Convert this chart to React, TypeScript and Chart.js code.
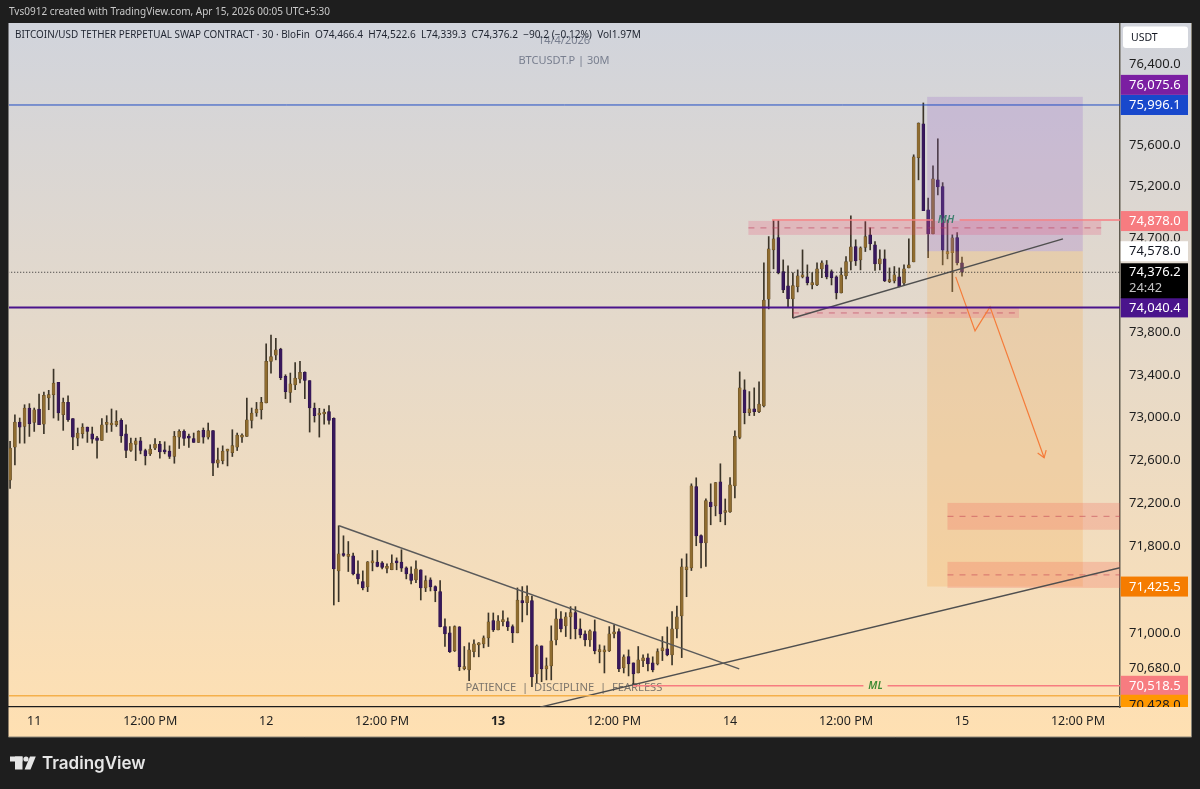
import React, { useEffect, useRef } from 'react'
import { Chart, registerables } from 'chart.js'

Chart.register(...registerables)

const FONT = '"Noto Sans", sans-serif'

// 30 minute BTCUSDT.P bars. Bar number 0 is the open of the 11th
const opens = [
  72412, 72720, 72955, 72914, 73087, 72952, 73078, 72936, 73181, 73213,
  73329, 73024, 73140, 72987, 72804, 72845, 72908, 72845, 72808, 72783,
  72933, 72927, 72930, 72971, 72845, 72688, 72745, 72779, 72688, 72657,
  72710, 72748, 72688, 72682, 72632, 72814, 72867, 72814, 72801, 72764,
  72877, 72814, 72874, 72569, 72594, 72682, 72669, 72720, 72814, 72820,
  72971, 73040, 73071, 73134, 73527, 73586, 73643, 73385, 73235, 73304,
  73360, 73423, 73345, 73087, 73021, 73031, 73053, 72990, 71570, 71727,
  71703, 71709, 71542, 71471, 71422, 71644, 71651, 71644, 71593, 71580,
  71654, 71651, 71598, 71542, 71487, 71580, 71413, 71487, 71425, 71379,
  71058, 71001, 70839, 71055, 70675, 70663, 70830, 70891, 70900, 70955,
  71113, 71028, 71104, 71104, 71058, 71001, 71296, 71277, 71296, 70626,
  70882, 70672, 70699, 70937, 71129, 71065, 71147, 71186, 71037, 70992,
  70937, 71013, 70830, 70827, 70836, 70992, 71013, 70681, 70784, 70727,
  70635, 70748, 70772, 70727, 70718, 70839, 70855, 70800, 71037, 71156,
  71580, 71598, 72351, 71897, 71829, 72208, 72171, 72395, 72110, 72116,
  72358, 72810, 73258, 73044, 73079, 73053, 73107, 74120, 74591, 74710,
  74383, 74246, 74121, 74239, 74332, 74332, 74255, 74255, 74409, 74447,
  74383, 74332, 74178, 74342, 74479, 74623, 74495, 74614, 74736, 74640,
  74457, 74505, 74287, 74294, 74332, 74272, 74418, 74476, 75481, 75811,
  74976, 74745, 75267, 75201, 74553, 74563, 74710, 74466.4,
]
const highs = [
  72773, 73024, 72993, 73118, 73128, 73087, 73219, 73238, 73254, 73454,
  73329, 73181, 73203, 72987, 72899, 72940, 72908, 72908, 72820, 72987,
  73015, 73078, 73062, 72987, 72930, 72804, 72804, 72811, 72701, 72742,
  72801, 72773, 72770, 72732, 72867, 72883, 72883, 72842, 72852, 72874,
  72899, 72946, 72874, 72710, 72732, 72701, 72883, 72852, 72845, 73181,
  73087, 73140, 73188, 73693, 73778, 73746, 73652, 73401, 73417, 73517,
  73527, 73429, 73345, 73134, 73084, 73078, 73109, 72995, 71987, 71894,
  71841, 71734, 71663, 71570, 71656, 71758, 71758, 71656, 71635, 71718,
  71690, 71765, 71607, 71607, 71663, 71580, 71524, 71506, 71432, 71481,
  71129, 71058, 71065, 71058, 70876, 70909, 70937, 70912, 70973, 71183,
  71183, 71159, 71202, 71138, 71074, 71413, 71425, 71432, 71339, 70891,
  70882, 70772, 71065, 71220, 71195, 71186, 71241, 71241, 71129, 71019,
  71028, 71119, 70891, 70882, 71058, 71074, 71037, 70800, 70845, 70727,
  70876, 70800, 70809, 70782, 70855, 70967, 71055, 71195, 71247, 71681,
  71727, 72377, 72433, 71903, 72236, 72377, 72389, 72564, 72236, 72436,
  72873, 73428, 73353, 73242, 73277, 73334, 74467, 74719, 74873, 74873,
  74495, 74438, 74370, 74399, 74591, 74447, 74373, 74467, 74486, 74489,
  74399, 74342, 74418, 74527, 74918, 74688, 74620, 74863, 74803, 74671,
  74591, 74591, 74418, 74431, 74418, 74447, 74697, 75510, 75821, 76016,
  75091, 75403, 75666, 75240, 74880, 74736, 74758, 74522.6,
]
const lows = [
  72333, 72553, 72757, 72757, 72820, 72867, 72930, 72845, 73071, 72993,
  72971, 72877, 72961, 72695, 72732, 72804, 72764, 72757, 72616, 72783,
  72858, 72867, 72914, 72764, 72622, 72679, 72594, 72657, 72553, 72641,
  72695, 72616, 72657, 72613, 72569, 72707, 72735, 72717, 72764, 72764,
  72757, 72795, 72453, 72531, 72563, 72544, 72632, 72688, 72764, 72820,
  72899, 73009, 72983, 73134, 73417, 73542, 73354, 73175, 73140, 73260,
  73323, 73175, 72861, 72955, 72814, 72936, 72936, 71256, 71286, 71703,
  71564, 71533, 71450, 71395, 71379, 71570, 71607, 71589, 71552, 71580,
  71580, 71564, 71496, 71450, 71462, 71302, 71379, 71385, 71286, 71055,
  70876, 70821, 70830, 70657, 70663, 70565, 70782, 70782, 70864, 70876,
  71013, 71028, 71065, 71022, 70912, 71001, 71101, 71165, 70510, 70544,
  70556, 70572, 70572, 70891, 71010, 70967, 70946, 70946, 70955, 70882,
  70876, 70809, 70727, 70635, 70830, 70955, 70647, 70635, 70608, 70526,
  70635, 70693, 70654, 70645, 70708, 70748, 70791, 70708, 70955, 70775,
  71332, 71573, 71802, 71598, 71610, 71996, 72079, 72024, 71996, 72110,
  72246, 72798, 72938, 73016, 73016, 73044, 73097, 74026, 74409, 74361,
  74181, 74047, 73940, 74188, 74322, 74255, 74217, 74248, 74325, 74313,
  74255, 74121, 74178, 74313, 74399, 74441, 74399, 74575, 74591, 74393,
  74399, 74287, 74277, 74274, 74236, 74248, 74418, 74476, 75267, 74969,
  74515, 74745, 75121, 74447, 74505, 74191, 74447, 74339.3,
]
const closes = [
  72710, 72955, 72908, 73087, 72940, 73071, 72930, 73206, 73213, 73323,
  73040, 73140, 72977, 72814, 72852, 72908, 72867, 72795, 72783, 72930,
  72940, 72933, 72961, 72826, 72688, 72757, 72779, 72688, 72638, 72701,
  72748, 72676, 72676, 72632, 72820, 72867, 72801, 72804, 72764, 72867,
  72814, 72874, 72569, 72600, 72682, 72688, 72735, 72833, 72820, 72977,
  73040, 73078, 73140, 73527, 73574, 73637, 73373, 73241, 73316, 73370,
  73423, 73348, 73087, 73015, 73034, 73049, 72971, 71589, 71727, 71712,
  71712, 71542, 71496, 71413, 71654, 71656, 71610, 71601, 71603, 71642,
  71644, 71595, 71542, 71481, 71589, 71413, 71481, 71422, 71388, 71058,
  70992, 70830, 71058, 70693, 70693, 70845, 70900, 70900, 70955, 71101,
  71028, 71110, 71113, 71058, 71001, 71302, 71275, 71339, 70599, 70882,
  70672, 70699, 70928, 71129, 71037, 71147, 71186, 71037, 70982, 70937,
  71019, 70836, 70845, 70836, 70992, 71001, 70672, 70782, 70718, 70626,
  70754, 70772, 70718, 70663, 70830, 70864, 70800, 71037, 71147, 71607,
  71607, 72358, 71894, 71829, 72221, 72165, 72389, 72097, 72125, 72367,
  72820, 73277, 73044, 73079, 73053, 73125, 74111, 74601, 74697, 74370,
  74207, 74121, 74248, 74342, 74351, 74277, 74277, 74409, 74467, 74332,
  74325, 74178, 74351, 74479, 74620, 74486, 74611, 74719, 74649, 74457,
  74505, 74294, 74303, 74351, 74239, 74409, 74447, 75490, 75818, 74969,
  74745, 75276, 75198, 74591, 74575, 74707, 74467, 74376.2,
]
const firstBar = -5
const bars = opens.map((_, i) => i + firstBar)

const timeTicks = [0, 24, 48, 72, 96, 120, 144, 168, 192, 216]
const timeLabels = ['11', '12:00 PM', '12', '12:00 PM', '13', '12:00 PM', '14', '12:00 PM', '15', '12:00 PM']
const boldTimeTick = 96

const priceTicks = [76400, 75600, 75200, 74700, 73800, 73400, 73000, 72600, 72200, 71800, 71000, 70680]

// drawn levels and trend lines, as bar number and price
const blueLevel = 75996.1
const purpleLevel = 74040.4
const lastPrice = 74376.2
const orangeLevel = 70428
const mhLevel = 74878
const mlLevel = 70518.5
const trendDown = [{ x: 63.1, y: 71987 }, { x: 145.9, y: 70672 }]
const trendLong = [{ x: 104.7, y: 70325 }, { x: 224.7, y: 71598 }]
const trendShort = [{ x: 157, y: 73940 }, { x: 212.9, y: 74697 }]
const arrowPath = [{ x: 190.7, y: 74332 }, { x: 194.7, y: 73817 }, { x: 197.8, y: 74045 }, { x: 209, y: 72620 }]

// position tool and supply zones: from bar, to bar, upper price, lower price
const targetBox = [184.8, 217, 76075.6, 74578]
const stopBox = [184.8, 217, 74578, 71425.5]
const zoneUpper = [147.8, 220.8, 74870, 74735]
const zoneMiddle = [157, 203.8, 74035, 73940]
const zoneLowA = [189, 224.7, 72199, 71950]
const zoneLowB = [189, 224.7, 71653, 71413]

const priceTags = [
  { price: 76075.6, text: '76,075.6', bg: '#7b1fa2', fg: '#fff', shift: -12 },
  { price: 75996.1, text: '75,996.1', bg: '#1848cc', fg: '#fff', shift: 0 },
  { price: 74878, text: '74,878.0', bg: '#f77c80', fg: '#fff', shift: 1 },
  { price: 74578, text: '74,578.0', bg: '#ffffff', fg: '#131722', shift: 0 },
  { price: 74040.4, text: '74,040.4', bg: '#4a148c', fg: '#fff', shift: 0 },
  { price: 71425.5, text: '71,425.5', bg: '#f57c00', fg: '#fff', shift: 0 },
  { price: 70518.5, text: '70,518.5', bg: '#f77c80', fg: '#fff', shift: 0 },
  { price: 70428, text: '70,428.0', bg: '#ff9800', fg: '#131722', shift: 9 },
]

const bodyLow = opens.map((o, i) => Math.min(o, closes[i]))
const bodyHigh = opens.map((o, i) => Math.max(o, closes[i]))
const bodyColor = (part: 'fill' | 'edge') =>
  opens.map((o, i) => {
    if (closes[i] >= o) return part === 'fill' ? '#8f6c30' : '#5a4522'
    return part === 'fill' ? '#38185c' : '#2a1346'
  })

function flat(price: number, from = -6, to = 226) {
  return [{ x: from, y: price }, { x: to, y: price }]
}

const line = (data: { x: number; y: number }[], color: string, width: number, dash: number[] = []) => ({
  type: 'line' as const,
  data,
  borderColor: color,
  borderWidth: width,
  borderDash: dash,
  pointRadius: 0,
  tension: 0,
  order: 0,
})

const overlayPlugin = {
  id: 'overlays',
  beforeDraw(chart: Chart) {
    const { ctx } = chart
    ctx.save()
    ctx.fillStyle = '#1e1e1e'
    ctx.fillRect(0, 0, chart.width, chart.height)
    const g = ctx.createLinearGradient(0, 23, 0, 737)
    g.addColorStop(0, '#d1d4dc')
    g.addColorStop(1, '#ffe0b2')
    ctx.fillStyle = g
    ctx.fillRect(8.5, 23, 1183.5, 714)
    ctx.strokeStyle = '#8a8578'
    ctx.lineWidth = 1
    ctx.beginPath()
    ctx.moveTo(1191.5, 23)
    ctx.lineTo(1191.5, 737)
    ctx.lineTo(8.5, 737)
    ctx.stroke()

    ctx.fillStyle = '#c9c9c9'
    ctx.font = `10px ${FONT}`
    ctx.textBaseline = 'middle'
    ctx.fillText('Tvs0912 created with TradingView.com, Apr 15, 2026 00:05 UTC+5:30', 9, 12.5)

    // logo
    ctx.fillStyle = '#e6e6e6'
    ctx.fillRect(10, 756.5, 12.5, 5)
    ctx.fillRect(15, 756.5, 7.5, 13)
    ctx.beginPath()
    ctx.arc(26, 759, 2.6, 0, Math.PI * 2)
    ctx.fill()
    ctx.beginPath()
    ctx.moveTo(30, 756.5)
    ctx.lineTo(35.8, 756.5)
    ctx.lineTo(30.5, 769.5)
    ctx.lineTo(24.6, 769.5)
    ctx.fill()
    ctx.font = `600 17px Inter, ${FONT}`
    ctx.fillText('TradingView', 42, 763.5)
    ctx.restore()
  },
  beforeDatasetsDraw(chart: Chart) {
    const { ctx } = chart
    ctx.save()
    ctx.textAlign = 'center'
    ctx.textBaseline = 'middle'
    ctx.fillStyle = 'rgba(90,98,118,0.75)'
    ctx.font = `11px ${FONT}`
    ctx.fillText('14/4/2026', 564, 41)
    ctx.fillText('BTCUSDT.P | 30M', 564, 61)
    ctx.fillStyle = 'rgba(110,105,100,0.9)'
    ctx.font = `11.2px ${FONT}`
    ctx.fillText('PATIENCE  |  DISCIPLINE  |  FEARLESS', 564, 688)
    ctx.restore()
  },
  // the boxes sit over the candles but under the drawn lines
  beforeDatasetDraw(chart: Chart, args: { index: number }) {
    if (args.index !== chart.data.datasets.length - 1) return
    const { ctx } = chart
    const x = chart.scales.x
    const y = chart.scales.y
    const zone = (z: number[], fill: string) => {
      const l = x.getPixelForValue(z[0])
      const r = x.getPixelForValue(z[1])
      const t = y.getPixelForValue(z[2])
      const b = y.getPixelForValue(z[3])
      ctx.fillStyle = fill
      ctx.fillRect(l, t, r - l, b - t)
    }
    const midDash = (z: number[], color: string) => {
      const py = y.getPixelForValue((z[2] + z[3]) / 2)
      ctx.strokeStyle = color
      ctx.lineWidth = 1
      ctx.setLineDash([6, 6])
      ctx.beginPath()
      ctx.moveTo(x.getPixelForValue(z[0]), py)
      ctx.lineTo(x.getPixelForValue(z[1]), py)
      ctx.stroke()
      ctx.setLineDash([])
    }
    ctx.save()
    ctx.beginPath()
    ctx.rect(chart.chartArea.left, chart.chartArea.top, chart.chartArea.width, chart.chartArea.height)
    ctx.clip()
    zone(targetBox, 'rgba(150,100,200,0.24)')
    zone(stopBox, 'rgba(245,175,90,0.28)')
    zone(zoneUpper, 'rgba(233,60,110,0.2)')
    zone(zoneMiddle, 'rgba(233,60,110,0.18)')
    zone(zoneLowA, 'rgba(244,90,80,0.24)')
    zone(zoneLowB, 'rgba(244,90,80,0.24)')
    midDash(zoneUpper, 'rgba(190,60,90,0.6)')
    midDash(zoneMiddle, 'rgba(190,60,90,0.6)')
    midDash(zoneLowA, 'rgba(190,60,80,0.55)')
    midDash(zoneLowB, 'rgba(190,60,80,0.55)')
    ctx.restore()
  },
  afterDraw(chart: Chart) {
    const { ctx } = chart
    const x = chart.scales.x
    const y = chart.scales.y
    ctx.save()

    // arrow head
    const a = arrowPath[arrowPath.length - 2]
    const b = arrowPath[arrowPath.length - 1]
    const bx = x.getPixelForValue(b.x)
    const by = y.getPixelForValue(b.y)
    const ang = Math.atan2(by - y.getPixelForValue(a.y), bx - x.getPixelForValue(a.x))
    ctx.strokeStyle = '#f57c3a'
    ctx.lineWidth = 1.2
    ctx.beginPath()
    ctx.moveTo(bx - 8 * Math.cos(ang - 0.6), by - 8 * Math.sin(ang - 0.6))
    ctx.lineTo(bx, by)
    ctx.lineTo(bx - 8 * Math.cos(ang + 0.6), by - 8 * Math.sin(ang + 0.6))
    ctx.stroke()

    // MH / ML labels
    ctx.textAlign = 'center'
    ctx.textBaseline = 'middle'
    ctx.font = `italic 600 10.5px ${FONT}`
    ctx.fillStyle = '#3d7f6e'
    ctx.fillText('MH', x.getPixelForValue(188.7), y.getPixelForValue(mhLevel))
    ctx.fillStyle = '#3f8a34'
    ctx.fillText('ML', x.getPixelForValue(174.1), y.getPixelForValue(mlLevel))

    // header row
    ctx.textAlign = 'left'
    ctx.fillStyle = '#1f2430'
    ctx.font = `9.9px ${FONT}`
    ctx.fillText('BITCOIN/USD TETHER PERPETUAL SWAP CONTRACT · 30 · BloFin', 15, 35.5)
    ctx.font = `10.1px ${FONT}`
    ctx.fillText('O74,466.4  H74,522.6  L74,339.3  C74,376.2  −90.2 (−0.12%)  Vol1.97M', 315, 35.5)

    // USDT button
    ctx.fillStyle = '#ffffff'
    ctx.beginPath()
    ctx.roundRect(1123, 26.5, 65, 21.5, 3)
    ctx.fill()
    ctx.fillStyle = '#131722'
    ctx.font = `10.5px ${FONT}`
    ctx.fillText('USDT', 1131, 38)

    // price tags on the axis, cut off where the time axis begins
    ctx.beginPath()
    ctx.rect(1120.5, 23, 72, 684)
    ctx.clip()
    ctx.font = `13px ${FONT}`
    for (const tag of priceTags) {
      const py = y.getPixelForValue(tag.price) + tag.shift
      ctx.fillStyle = tag.bg
      ctx.fillRect(1120.5, py - 10, 67.5, 20)
      ctx.fillStyle = tag.fg
      ctx.fillText(tag.text, 1129, py + 0.5)
    }
    const py = y.getPixelForValue(lastPrice)
    ctx.fillStyle = '#000000'
    ctx.fillRect(1120.5, py - 9, 67.5, 35)
    ctx.fillStyle = '#ffffff'
    ctx.fillText('74,376.2', 1129, py + 0.5)
    ctx.fillStyle = '#c4c4c4'
    ctx.fillText('24:42', 1129, py + 16)
    ctx.restore()
  },
}

export default function App() {
  const canvasRef = useRef<HTMLCanvasElement>(null)

  useEffect(() => {
    if (!canvasRef.current) return
    document.body.style.margin = '0'
    document.body.style.background = '#1e1e1e'

    const chart = new Chart(canvasRef.current, {
      type: 'bar',
      data: {
        datasets: [
          {
            label: 'wicks',
            data: bars.map((b, i) => ({ x: b, y: [lows[i], highs[i]] })),
            backgroundColor: '#3b3428',
            barThickness: 1,
            grouped: false,
            order: 3,
          },
          {
            label: 'bodies',
            data: bars.map((b, i) => ({ x: b, y: [bodyLow[i], bodyHigh[i]] })),
            backgroundColor: bodyColor('fill'),
            borderColor: bodyColor('edge'),
            borderWidth: 0.5,
            borderSkipped: false,
            barThickness: 3,
            minBarLength: 2,
            grouped: false,
            order: 2,
          },
          line(flat(blueLevel), '#1f4cc4', 1),
          line(flat(purpleLevel), '#4a148c', 2),
          line(flat(lastPrice), '#2a2a2a', 1, [1, 2]),
          line(flat(orangeLevel), '#f5b04a', 1.5),
          line(flat(mhLevel, 152.7, 186), '#f77c80', 1.5),
          line(flat(mhLevel, 191.5, 226), '#f77c80', 1.5),
          line(flat(mlLevel, 123.9, 171.6), '#f77c80', 1.5),
          line(flat(mlLevel, 176.6, 226), '#f77c80', 1.5),
          line(trendDown, '#5a5a5a', 1.5),
          line(trendLong, '#4f4f4f', 1.5),
          line(trendShort, '#4f4f4f', 1.5),
          line(arrowPath, '#f57c3a', 1.2),
        ] as any,
      },
      plugins: [overlayPlugin as any],
      options: {
        responsive: false,
        animation: false,
        events: [],
        layout: { padding: { left: 9, right: 8, top: 24, bottom: 52 } },
        plugins: { legend: { display: false }, tooltip: { enabled: false } },
        scales: {
          x: {
            type: 'linear',
            min: -5.22,
            max: 224.7,
            bounds: 'data',
            offset: false,
            afterFit: (s: any) => { s.height = 30 },
            afterBuildTicks: (s: any) => { s.ticks = timeTicks.map(value => ({ value })) },
            grid: { display: false, drawTicks: false, offset: false },
            border: { display: true, color: '#1c1c1c', width: 1.2 },
            ticks: {
              autoSkip: false,
              maxRotation: 0,
              padding: 7,
              color: '#1f1f1f',
              font: (c: any) => ({
                family: FONT,
                size: 12.5,
                weight: c.tick?.value === boldTimeTick ? 'bold' : 'normal',
              }),
              callback: (v: any) => timeLabels[timeTicks.indexOf(v)],
            },
          },
          y: {
            type: 'logarithmic',
            position: 'right',
            min: 70326,
            max: 76793,
            bounds: 'data',
            afterFit: (s: any) => { s.width = 72 },
            afterBuildTicks: (s: any) => { s.ticks = priceTicks.map(value => ({ value })) },
            grid: { display: false, drawTicks: false },
            border: { display: true, color: '#5f5a4e', width: 1.5 },
            ticks: {
              autoSkip: false,
              padding: 9,
              color: '#1f1f1f',
              font: { family: FONT, size: 13 },
              callback: (v: any) => Number(v).toLocaleString('en-US', { minimumFractionDigits: 1 }),
            },
          },
        },
      } as any,
    })

    return () => chart.destroy()
  }, [])

  return (
    <div style={{ width: 1200, height: 789 }}>
      <canvas ref={canvasRef} width={1200} height={789} style={{ display: 'block' }} />
    </div>
  )
}
